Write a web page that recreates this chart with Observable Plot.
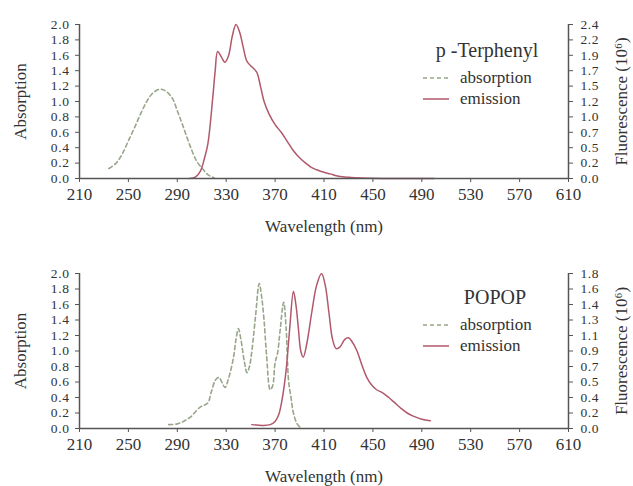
<!DOCTYPE html>
<html>
<head>
<meta charset="utf-8">
<script src="https://cdn.jsdelivr.net/npm/d3@7"></script>
<script src="https://cdn.jsdelivr.net/npm/@observablehq/plot@0.6"></script>
<style>
  html, body { margin: 0; padding: 0; background: #fff; }
  #root { width: 633px; height: 486px; position: relative; overflow: hidden; }
  .panel { position: relative; width: 633px; height: 243px; }
  .legend { position: absolute; font-family: 'Liberation Serif', 'Times New Roman', serif; color: #333; }
  .legend .title { position: absolute; font-size: 20px; white-space: nowrap; transform: translate(-50%, -50%); }
  .legend .row { position: absolute; font-size: 17px; white-space: nowrap; display: flex; align-items: center; transform: translateY(-50%); }
  .legend .row svg { margin-right: 11px; }
  .ytick text { font-size: 13.5px; letter-spacing: 0.6px; }
</style>
</head>
<body>
<div id="root"></div>
<script>
// ---------- data ----------
const xTicks = [210, 250, 290, 330, 370, 410, 450, 490, 530, 570, 610];
const yTicks = [0, 0.2, 0.4, 0.6, 0.8, 1.0, 1.2, 1.4, 1.6, 1.8, 2.0];
const rightLabelsTop = ["0.0","0.2","0.5","0.7","1.0","1.2","1.5","1.7","1.9","2.2","2.4"];
const rightLabelsBottom = ["0.0","0.2","0.4","0.5","0.7","0.9","1.1","1.3","1.4","1.6","1.8"];

// p-Terphenyl absorption
const terAbsNm  = [234, 240, 245, 250, 255, 260, 265, 270, 276, 281, 286, 290, 294, 298, 302, 306, 311, 315, 320];
const terAbsVal = [0.13, 0.2, 0.32, 0.49, 0.66, 0.84, 1.0, 1.11, 1.16, 1.13, 1.04, 0.88, 0.71, 0.53, 0.36, 0.22, 0.12, 0.05, 0.01];
// p-Terphenyl emission (on absorption scale)
const terEmNm  = [300, 305, 309, 312, 315, 319, 321, 323, 326, 329, 332, 335, 338, 341, 344, 347, 351, 355, 358, 361, 365, 370, 375, 380, 385, 390, 395, 400, 408, 415, 422, 430, 440, 460, 500];
const terEmVal = [0, 0.02, 0.1, 0.25, 0.45, 1.05, 1.4, 1.65, 1.58, 1.51, 1.6, 1.85, 2.0, 1.9, 1.7, 1.52, 1.45, 1.38, 1.2, 1.0, 0.84, 0.7, 0.6, 0.48, 0.36, 0.27, 0.2, 0.14, 0.09, 0.06, 0.03, 0.015, 0.005, 0, 0];

// POPOP absorption
const popAbsNm  = [283, 290, 296, 301, 305, 309, 312, 315, 318, 321, 324, 327, 329, 332, 336, 338, 340, 342, 345, 347, 349, 351, 354, 357, 359, 361, 363, 366, 368, 370, 372, 374, 377, 379, 381, 383, 385, 388, 391];
const popAbsVal = [0.05, 0.06, 0.1, 0.15, 0.22, 0.28, 0.3, 0.33, 0.48, 0.62, 0.66, 0.58, 0.53, 0.65, 0.92, 1.15, 1.29, 1.15, 0.85, 0.72, 0.8, 1.0, 1.45, 1.87, 1.7, 1.39, 0.95, 0.5, 0.55, 0.85, 0.97, 1.25, 1.63, 1.3, 0.62, 0.4, 0.2, 0.06, 0.01];
// POPOP emission (on absorption scale)
const popEmNm  = [351, 360, 366, 370, 373, 376, 379, 382, 385, 387, 389, 391, 393, 396, 400, 404, 408, 411, 414, 417, 420, 423, 427, 430, 433, 437, 441, 445, 449, 453, 458, 463, 468, 473, 478, 483, 490, 497];
const popEmVal = [0.05, 0.04, 0.05, 0.09, 0.18, 0.4, 0.75, 1.3, 1.77, 1.6, 1.3, 1.0, 0.92, 1.1, 1.5, 1.85, 2.0, 1.85, 1.5, 1.15, 1.03, 1.05, 1.15, 1.17, 1.12, 1.0, 0.82, 0.66, 0.56, 0.5, 0.46, 0.4, 0.33, 0.26, 0.2, 0.16, 0.12, 0.1];

const panels = [
  {name: "p -Terphenyl", absNm: terAbsNm, absVal: terAbsVal, emNm: terEmNm, emVal: terEmVal, rightLabels: rightLabelsTop},
  {name: "POPOP", absNm: popAbsNm, absVal: popAbsVal, emNm: popEmNm, emVal: popEmVal, rightLabels: rightLabelsBottom}
];
const legendNames = ["absorption", "emission"];

// ---------- styles ----------
const FONT = "'Liberation Serif', 'Times New Roman', serif";
const ABS_COLOR = "#98a68a";
const EM_COLOR = "#b0586c";
const AXIS_COLOR = "#555";
const layout = [
  {marginTop: 24, marginBottom: 65, titleY: 50, rowY: [78, 99]},
  {marginTop: 30, marginBottom: 58, titleY: 54, rowY: [82, 103]}
];

const root = document.getElementById("root");
const zip = (xs, ys) => xs.map((x, i) => ({nm: x, v: ys[i]}));

panels.forEach((p, k) => {
  const L = layout[k];
  const div = document.createElement("div");
  div.className = "panel";
  const chart = Plot.plot({
    width: 633, height: 243,
    marginLeft: 79, marginRight: 65, marginTop: L.marginTop, marginBottom: L.marginBottom,
    style: {fontFamily: FONT, fontSize: "17px", color: "#333", background: "#fff", overflow: "visible"},
    x: {domain: [210, 610]},
    y: {domain: [0, 2]},
    marks: [
      Plot.line(zip(p.absNm, p.absVal), {x: "nm", y: "v", stroke: ABS_COLOR, strokeWidth: 1.6, strokeDasharray: "4,3", curve: "catmull-rom"}),
      Plot.line(zip(p.emNm, p.emVal), {x: "nm", y: "v", stroke: EM_COLOR, strokeWidth: 1.5, curve: "catmull-rom"}),
      Plot.ruleY([0], {stroke: AXIS_COLOR, strokeWidth: 1.5}),
      Plot.ruleX([210, 610], {y1: 0, y2: 2, stroke: AXIS_COLOR, strokeWidth: 1.5}),
      Plot.axisX({ticks: xTicks, tickFormat: d => String(d), tickSize: 4, tickPadding: 5, stroke: AXIS_COLOR,
        label: "Wavelength (nm)", labelAnchor: "center", labelArrow: "none", labelOffset: 53}),
      Plot.axisY({anchor: "left", ticks: yTicks, tickFormat: d => d.toFixed(1), tickSize: 4, tickPadding: 6, stroke: AXIS_COLOR,
        className: "ytick", label: null}),
      Plot.axisY({anchor: "left", ticks: [], label: "Absorption", labelAnchor: "center", labelArrow: "none", labelOffset: 66}),
      Plot.axisY({anchor: "right", ticks: yTicks, tickFormat: (d, i) => p.rightLabels[i], tickSize: 4, tickPadding: 8, stroke: AXIS_COLOR,
        className: "ytick", label: null}),
      Plot.axisY({anchor: "right", ticks: [], label: "Fluorescence (10⁶)", labelAnchor: "center", labelArrow: "none", labelOffset: 58})
    ]
  });
  div.appendChild(chart);

  const leg = document.createElement("div");
  leg.className = "legend";
  leg.style.left = "0px"; leg.style.top = "0px";
  const t = document.createElement("div");
  t.className = "title";
  t.textContent = p.name;
  t.style.left = (k === 0 ? 487 : 495) + "px";
  t.style.top = L.titleY + "px";
  leg.appendChild(t);
  legendNames.forEach((nm, j) => {
    const row = document.createElement("div");
    row.className = "row";
    row.style.left = "423px";
    row.style.top = L.rowY[j] + "px";
    const dash = j === 0 ? 'stroke-dasharray="4,3"' : "";
    const col = j === 0 ? ABS_COLOR : EM_COLOR;
    row.innerHTML = `<svg width="26" height="6"><line x1="0" y1="3" x2="26" y2="3" stroke="${col}" stroke-width="1.5" ${dash}/></svg><span>${nm}</span>`;
    leg.appendChild(row);
  });
  div.appendChild(leg);
  root.appendChild(div);
});
</script>
</body>
</html>
